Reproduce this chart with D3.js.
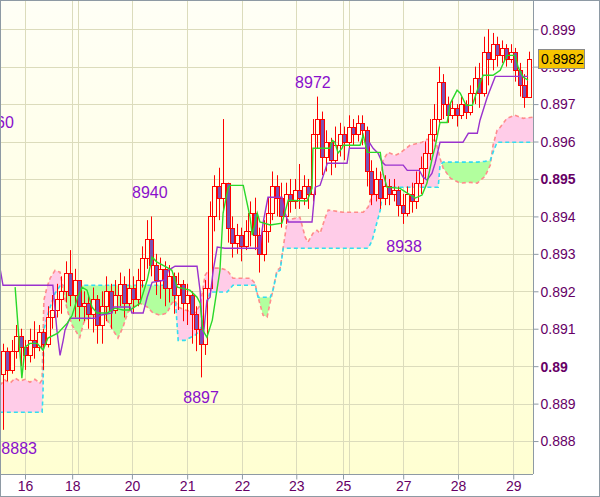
<!DOCTYPE html>
<html><head><meta charset="utf-8">
<script src="https://cdn.jsdelivr.net/npm/d3@7"></script>
<style>body{margin:0;background:#fff}svg{display:block}</style>
</head><body><svg id="c" width="600" height="497"></svg>
<script>
// ---------- DATA ----------
const firstOpen = 0.8898;
const closes = [0.8904,0.8899,0.8904,0.8908,0.8905,0.8903,0.8907,0.8905,0.8909,0.8906,
0.8913,0.8915,0.8918,0.8920,0.8925,0.8919,0.8923,0.8916,0.8917,0.8914,
0.8918,0.8911,0.8916,0.8920,0.8915,0.8919,0.8922,0.8917,0.8921,0.8918,
0.8923,0.8929,0.8934,0.8927,0.8923,0.8926,0.8921,0.8924,0.8919,0.8922,
0.8917,0.8919,0.8914,0.8910,0.8906,0.8921,0.8940,0.8948,0.8945,0.8949,
0.8937,0.8933,0.8935,0.8932,0.8936,0.8941,0.8935,0.8930,0.8936,0.8941,
0.8948,0.8945,0.8940,0.8946,0.8944,0.8947,0.8945,0.8948,0.8946,0.8962,
0.8966,0.8956,0.8960,0.8955,0.8959,0.8962,0.8960,0.8964,0.8962,0.8965,
0.8963,0.8952,0.8946,0.8950,0.8945,0.8948,0.8946,0.8947,0.8943,0.8941,
0.8946,0.8944,0.8949,0.8953,0.8957,0.8962,0.8966,0.8976,0.8970,0.8967,
0.8969,0.8967,0.8970,0.8968,0.8973,0.8977,0.8973,0.8984,0.8982,0.8986,
0.8983,0.8985,0.8982,0.8984,0.8979,0.8975,0.8972,0.8982];
const highs = [0.8906,0.8905,0.8907,0.8911,0.8910,0.8907,0.8910,0.8912,0.8911,0.8910,
0.8916,0.8919,0.8922,0.8924,0.8928,0.8931,0.8926,0.8921,0.8920,0.8919,
0.8921,0.8919,0.8920,0.8924,0.8922,0.8923,0.8925,0.8924,0.8926,0.8924,
0.8926,0.8932,0.8939,0.8940,0.8930,0.8929,0.8928,0.8927,0.8925,0.8925,
0.8923,0.8922,0.8920,0.8916,0.8913,0.8923,0.8944,0.8951,0.8953,0.8966,
0.8948,0.8940,0.8938,0.8937,0.8939,0.8944,0.8945,0.8937,0.8939,0.8945,
0.8952,0.8951,0.8949,0.8949,0.8950,0.8950,0.8954,0.8951,0.8950,0.8966,
0.8972,0.8968,0.8963,0.8961,0.8964,0.8965,0.8964,0.8967,0.8966,0.8967,
0.8967,0.8964,0.8955,0.8953,0.8952,0.8951,0.8950,0.8950,0.8948,0.8946,
0.8948,0.8949,0.8952,0.8956,0.8960,0.8966,0.8970,0.8980,0.8978,0.8972,
0.8971,0.8970,0.8972,0.8971,0.8975,0.8980,0.8981,0.8988,0.8990,0.8989,
0.8988,0.8987,0.8986,0.8986,0.8985,0.8981,0.8978,0.8984];
const lows = [0.8883,0.8896,0.8898,0.8902,0.8900,0.8899,0.8901,0.8902,0.8904,0.8899,
0.8905,0.8910,0.8913,0.8914,0.8917,0.8916,0.8913,0.8912,0.8912,0.8910,
0.8909,0.8906,0.8906,0.8912,0.8910,0.8914,0.8916,0.8913,0.8915,0.8914,
0.8916,0.8921,0.8926,0.8924,0.8919,0.8918,0.8916,0.8917,0.8914,0.8915,
0.8912,0.8911,0.8906,0.8904,0.8897,0.8903,0.8919,0.8936,0.8939,0.8941,
0.8933,0.8929,0.8930,0.8928,0.8931,0.8932,0.8931,0.8925,0.8928,0.8933,
0.8939,0.8940,0.8937,0.8938,0.8941,0.8942,0.8942,0.8943,0.8942,0.8944,
0.8958,0.8951,0.8952,0.8951,0.8953,0.8956,0.8955,0.8958,0.8959,0.8960,
0.8959,0.8948,0.8943,0.8944,0.8942,0.8943,0.8943,0.8944,0.8940,0.8938,
0.8940,0.8941,0.8942,0.8946,0.8950,0.8955,0.8960,0.8965,0.8966,0.8965,
0.8966,0.8964,0.8966,0.8966,0.8967,0.8970,0.8969,0.8972,0.8975,0.8979,
0.8980,0.8981,0.8980,0.8981,0.8976,0.8972,0.8969,0.8973];

// Tenkan-sen (green) [bar index, price]
const tenkan = [[2.7,0.89211],[4.2,0.88968],[4.9,0.89051],[6.0,0.89061],[7.6,0.89061],[8.9,0.89043],
[10.0,0.89075],[12.2,0.89088],[14.3,0.89115],[15.4,0.89136],[16.7,0.89187],[17.6,0.89211],[18.7,0.89203],
[19.8,0.89158],[20.9,0.89142],[23.2,0.89142],[24.9,0.89155],[26.7,0.89150],[28.3,0.89150],[30.5,0.89168],
[32.1,0.89230],[33.2,0.89291],[34.3,0.89278],[36.5,0.89264],[37.6,0.89256],[38.8,0.89211],[41.6,0.89203],
[43.2,0.89184],[43.9,0.89168],[44.5,0.89096],[45.4,0.89077],[46.6,0.89123],[48.3,0.89256],[49.0,0.89409],
[50.1,0.89475],[50.6,0.89483],[53.5,0.89483],[55.0,0.89398],[55.5,0.89350],[56.6,0.89409],[57.2,0.89385],
[59.5,0.89377],[62.1,0.89382],[63.5,0.89443],[67.7,0.89441],[68.8,0.89475],[69.0,0.89582],[72.8,0.89582],
[73.3,0.89603],[73.9,0.89598],[74.6,0.89569],[75.5,0.89582],[75.7,0.89590],[79.5,0.89590],[80.2,0.89617],
[81.1,0.89571],[84.0,0.89571],[84.6,0.89515],[85.5,0.89478],[88.4,0.89475],[90.0,0.89462],[91.8,0.89449],
[93.3,0.89457],[94.4,0.89489],[95.6,0.89558],[96.2,0.89585],[97.3,0.89651],[98.9,0.89651],[99.6,0.89702],
[101.1,0.89737],[101.8,0.89729],[103.1,0.89697],[104.5,0.89697],[105.6,0.89737],[106.9,0.89777],
[109.1,0.89777],[110.7,0.89790],[111.4,0.89809],[112.2,0.89830],[114.0,0.89830],[114.7,0.89798],
[115.8,0.89772],[116.9,0.89764]];

// Kijun-sen (purple)
const kijun = [[-0.7,0.89264],[0,0.89216],[11.1,0.89216],[12.0,0.89096],[12.7,0.89029],[13.4,0.89069],
[13.8,0.89096],[14.9,0.89128],[20.9,0.89128],[21.6,0.89136],[24.3,0.89142],[24.5,0.89158],[28.3,0.89158],
[28.7,0.89142],[31.2,0.89142],[32.1,0.89184],[33.2,0.89224],[36.1,0.89230],[36.8,0.89256],[38.3,0.89267],
[43.2,0.89267],[43.9,0.89200],[44.5,0.89069],[45.4,0.89176],[46.1,0.89184],[46.8,0.89256],[47.7,0.89318],
[49.4,0.89315],[56.6,0.89315],[57.2,0.89318],[57.9,0.89382],[59.0,0.89451],[62.1,0.89451],[62.8,0.89409],
[63.5,0.89385],[68.8,0.89385],[69.5,0.89478],[70.6,0.89483],[71.7,0.89523],[72.2,0.89542],[76.6,0.89542],
[77.1,0.89582],[81.3,0.89582],[81.7,0.89595],[82.4,0.89582],[83.5,0.89569],[84.4,0.89545],[85.1,0.89537],
[89.1,0.89537],[90.0,0.89523],[92.7,0.89523],[93.5,0.89505],[94.4,0.89497],[95.5,0.89515],[96.2,0.89542],
[97.3,0.89598],[102.4,0.89598],[103.6,0.89622],[105.6,0.89622],[106.2,0.89657],[107.8,0.89718],
[109.6,0.89774],[116.9,0.89774]];

// Cloud: Senkou span A (pink, dashed) and B (cyan, dashed) on a common bar-index grid
const cloudIdx = [-0.7,0.4,1.6,2.7,3.8,4.9,6.0,7.1,8.2,8.7,8.9,9.1,9.8,10.5,11.6,12.7,13.4,14.3,15.4,17.1,
18.0,19.4,21.6,23.2,24.5,25.6,26.7,27.8,29.0,30.5,32.1,33.4,35.0,36.5,37.6,38.3,39.0,40.5,42.8,43.9,
45.0,46.1,48.3,49.9,51.2,55.0,56.1,56.8,57.9,58.8,59.5,60.1,61.0,61.7,62.4,63.3,66.1,67.3,67.9,69.0,
69.9,70.6,71.7,72.4,75.7,80.2,81.3,82.2,83.1,84.0,84.6,85.7,87.3,88.4,90.6,93.3,94.4,96.2,96.9,97.3,
98.0,99.6,101.8,104.0,105.6,107.3,108.5,109.1,110.0,110.7,112.2,114.0,115.8,118.0];
const spanA = [0.88949,0.88963,0.88955,0.88968,0.88960,0.88965,0.88957,0.88965,0.88955,0.88963,0.89069,0.89176,0.89211,0.89235,0.89256,0.89251,0.89203,0.89150,0.89109,0.89077,
0.89117,0.89131,0.89134,0.89123,0.89096,0.89075,0.89104,0.89144,0.89158,0.89168,0.89158,0.89142,0.89136,0.89142,0.89168,0.89176,0.89158,0.89150,0.89144,0.89163,
0.89243,0.89262,0.89262,0.89256,0.89235,0.89235,0.89222,0.89184,0.89136,0.89131,0.89171,0.89203,0.89256,0.89262,0.89318,0.89390,0.89398,0.89344,0.89331,0.89355,
0.89363,0.89355,0.89395,0.89417,0.89411,0.89411,0.89425,0.89457,0.89478,0.89489,0.89550,0.89571,0.89563,0.89569,0.89590,0.89598,0.89606,0.89603,0.89577,0.89555,
0.89529,0.89502,0.89489,0.89491,0.89489,0.89507,0.89537,0.89590,0.89630,0.89638,0.89662,0.89670,0.89662,0.89665];
const spanB = [0.88877,0.88877,0.88877,0.88877,0.88877,0.88877,0.88877,0.88877,0.88877,0.88877,0.88923,0.89096,0.89131,0.89158,0.89195,0.89214,0.89216,0.89216,0.89216,0.89216,
0.89216,0.89216,0.89216,0.89216,0.89216,0.89216,0.89216,0.89216,0.89216,0.89216,0.89216,0.89216,0.89216,0.89216,0.89216,0.89190,0.89069,0.89069,0.89083,0.89096,
0.89150,0.89198,0.89198,0.89198,0.89216,0.89216,0.89216,0.89184,0.89184,0.89184,0.89184,0.89203,0.89251,0.89256,0.89315,0.89315,0.89315,0.89315,0.89315,0.89315,
0.89315,0.89315,0.89315,0.89315,0.89315,0.89315,0.89315,0.89336,0.89377,0.89417,0.89478,0.89478,0.89478,0.89478,0.89478,0.89478,0.89478,0.89478,0.89478,0.89537,
0.89545,0.89545,0.89545,0.89545,0.89545,0.89547,0.89550,0.89571,0.89598,0.89598,0.89598,0.89598,0.89598,0.89598];

const priceTicks = [0.888,0.889,0.89,0.891,0.892,0.893,0.894,0.895,0.896,0.897,0.898,0.899];
const boldTicks = [0.89,0.895];
const dayLabels = ["16","18","20","21","22","23","25","27","28","29"];
const dayTickIdx = [4.9,15.4,28.7,41.0,53.2,65.3,75.7,89.1,101.3,113.6];
const weekGridIdx = [16.7,77.1];
const notes = [
  {t:"8960", i:-1.56, p:0.89636},
  {t:"8972", i:69.0, p:0.89742},
  {t:"8940", i:32.7, p:0.89449},
  {t:"8938", i:89.3, p:0.89304},
  {t:"8897", i:44.1, p:0.88901},
  {t:"8883", i:3.6, p:0.88765}
];
const lastPrice = 0.8982;

// ---------- CHART ----------
const W = 533, H = 474;
const svg = d3.select("#c");
const x = d3.scaleLinear().domain([0,118]).range([3,533]);
const y = d3.scaleLinear().domain([0.88712,0.89978]).range([H,0]);

const defs = svg.append("defs");
const g = defs.append("linearGradient").attr("id","bg").attr("gradientUnits","userSpaceOnUse")
  .attr("x1",0).attr("y1",0).attr("x2",0).attr("y2",H);
g.append("stop").attr("offset",0).attr("stop-color","#fffff6");
g.append("stop").attr("offset",1).attr("stop-color","#ffffd2");
defs.append("clipPath").attr("id","plot").append("rect").attr("width",W).attr("height",H);

const cloud = cloudIdx.map((d,k)=>({i:d,a:spanA[k],b:spanB[k]}));
defs.append("clipPath").attr("id","aboveB").append("path")
  .attr("d", d3.area().x(d=>x(d.i)).y0(0).y1(d=>y(d.b))(cloud));
defs.append("clipPath").attr("id","belowB").append("path")
  .attr("d", d3.area().x(d=>x(d.i)).y0(H).y1(d=>y(d.b))(cloud));

svg.append("rect").attr("width",W).attr("height",H).attr("fill","url(#bg)");

const plot = svg.append("g").attr("clip-path","url(#plot)");

// grid
plot.selectAll(".hg").data(priceTicks).join("line")
  .attr("x1",0).attr("x2",W).attr("y1",d=>Math.round(y(d))+0.5).attr("y2",d=>Math.round(y(d))+0.5)
  .attr("stroke","#dcdcbc").attr("stroke-width",1);
plot.selectAll(".vg").data(dayTickIdx.concat(weekGridIdx)).join("line")
  .attr("y1",0).attr("y2",H).attr("x1",d=>Math.round(x(d))+0.5).attr("x2",d=>Math.round(x(d))+0.5)
  .attr("stroke","#dcdcbc").attr("stroke-width",1);

// cloud fills
const between = d3.area().x(d=>x(d.i)).y0(d=>y(d.a)).y1(d=>y(d.b));
plot.append("path").attr("d",between(cloud)).attr("fill","#ffcce8").attr("clip-path","url(#aboveB)");
plot.append("path").attr("d",between(cloud)).attr("fill","#b2ff9e").attr("clip-path","url(#belowB)");
plot.append("path").attr("d",d3.line().x(d=>x(d.i)).y(d=>y(d.a))(cloud))
  .attr("fill","none").attr("stroke","#ff8c8c").attr("stroke-width",1.6).attr("stroke-dasharray","4,3");
plot.append("path").attr("d",d3.line().x(d=>x(d.i)).y(d=>y(d.b))(cloud))
  .attr("fill","none").attr("stroke","#33dcf0").attr("stroke-width",1.6).attr("stroke-dasharray","4,3");

// candles
const bars = closes.map((c,i)=>{
  const o = i===0 ? firstOpen : closes[i-1];
  return {i, o, c, h:Math.max(highs[i],o,c), l:Math.min(lows[i],o,c)};
});
const cg = plot.append("g");
bars.forEach(b=>{
  const cx = Math.round(x(b.i))+0.5;
  cg.append("line").attr("x1",cx).attr("x2",cx).attr("y1",y(b.h)).attr("y2",y(b.l))
    .attr("stroke","#ff0000").attr("stroke-width",1);
  const top = Math.round(y(Math.max(b.o,b.c)))+0.5, bot = Math.round(y(Math.min(b.o,b.c)))+0.5;
  cg.append("rect").attr("x",cx-2).attr("y",top).attr("width",4).attr("height",Math.max(1,bot-top))
    .attr("fill", b.c<b.o ? "#7a52b4" : "url(#bg)").attr("stroke","#ff0000").attr("stroke-width",1);
});

// tenkan / kijun
const ln = d3.line().x(d=>x(d[0])).y(d=>y(d[1]));
plot.append("path").attr("d",ln(kijun)).attr("fill","none").attr("stroke","#9a32cd").attr("stroke-width",1.4);
plot.append("path").attr("d",ln(tenkan)).attr("fill","none").attr("stroke","#2ad82a").attr("stroke-width",1.4);

// annotations
svg.selectAll(".note").data(notes).join("text")
  .attr("x",d=>x(d.i)).attr("y",d=>y(d.p)).attr("text-anchor","middle")
  .attr("font-family","Liberation Sans, Arial, sans-serif").attr("font-size",16)
  .attr("fill","#8a10cc").text(d=>d.t);

// axes
const axisColor = "#8e9aa4";
const ya = svg.append("g").attr("transform",`translate(${W+0.5},0)`)
  .call(d3.axisRight(y).tickValues(priceTicks).tickSize(5).tickSizeOuter(0)
    .tickFormat(d=>d3.format(".3~f")(d)));
ya.select(".domain").attr("stroke",axisColor).attr("d",`M0,0V${H}`);
ya.selectAll(".tick line").attr("stroke",axisColor);
ya.selectAll(".tick text").attr("x",7).attr("dy","0.35em")
  .attr("font-family","Liberation Sans, Arial, sans-serif").attr("font-size",14).attr("fill","#660066")
  .attr("font-weight",d=>boldTicks.some(b=>Math.abs(b-d)<1e-9)?"bold":"normal");

const xa = svg.append("g").attr("transform",`translate(0,${H+0.5})`)
  .call(d3.axisBottom(x).tickValues(dayTickIdx).tickSize(5).tickSizeOuter(0)
    .tickFormat((d,k)=>dayLabels[k]));
xa.select(".domain").attr("stroke",axisColor).attr("d",`M0,0H${W}`);
xa.selectAll(".tick line").attr("stroke",axisColor);
xa.selectAll(".tick text").attr("y",7).attr("dy","0.71em")
  .attr("font-family","Liberation Sans, Arial, sans-serif").attr("font-size",14).attr("fill","#660066");

// current price box
const py = y(lastPrice);
svg.append("rect").attr("x",538.5).attr("y",Math.round(py)-9.5).attr("width",46).attr("height",19)
  .attr("fill","#f7c500").attr("stroke","#8a8a8a");
svg.append("text").attr("x",541).attr("y",py).attr("dy","0.36em")
  .attr("font-family","Liberation Sans, Arial, sans-serif").attr("font-size",14).attr("fill","#000")
  .text(d3.format(".4f")(lastPrice));

// frame
svg.append("rect").attr("x",0.5).attr("y",0.5).attr("width",599).attr("height",496)
  .attr("fill","none").attr("stroke",axisColor);
</script></body></html>
